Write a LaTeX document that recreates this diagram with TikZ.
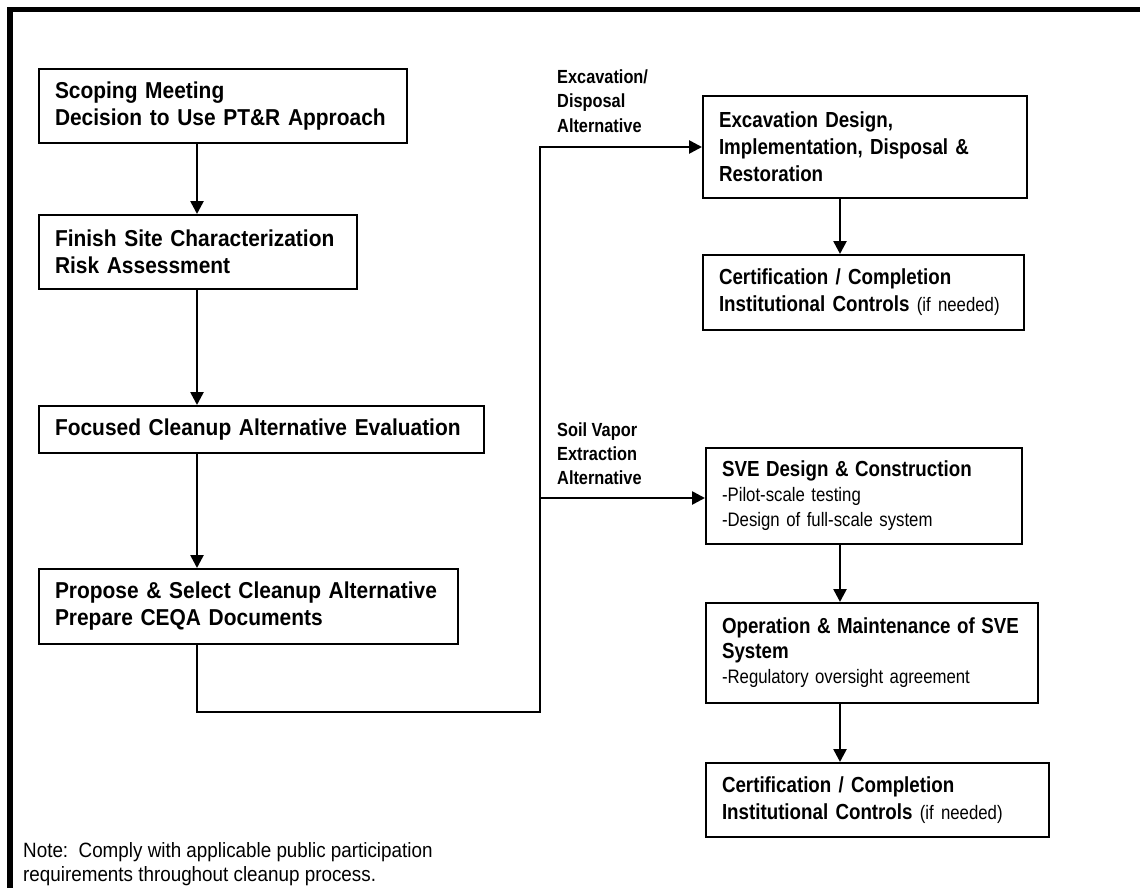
\documentclass[tikz,border=0pt]{standalone}
\usepackage{fontspec}
\setmainfont{Liberation Sans}
\newfontfamily\leftface[FakeStretch=0.91]{Liberation Sans}
\newfontfamily\rightface[FakeStretch=0.86]{Liberation Sans}
\usetikzlibrary{arrows.meta,positioning}

\newcommand{\stagefont}{\leftface\fontsize{23}{27}\selectfont\bfseries}
\newcommand{\notefont}{\leftface\fontsize{20.7}{24}\selectfont\mdseries}
\newcommand{\sidefont}{\rightface\fontsize{21.8}{27}\selectfont\bfseries}
\newcommand{\sidedetail}{\rightface\fontsize{19.5}{25}\selectfont\mdseries}
\newcommand{\branchfont}{\rightface\fontsize{19}{24}\selectfont\bfseries}

\begin{document}
\begin{tikzpicture}[x=1pt,y=-1pt,
		stage/.style={draw, line width=2pt, anchor=north west, align=left, inner xsep=16pt, inner ysep=0pt, font=\stagefont},
		sidestage/.style={stage, font=\sidefont},
		flow/.style={line width=2.6pt, -{Triangle[length=13pt,width=13pt]}},
		branch/.style={anchor=base west, align=left, inner sep=0pt, font=\branchfont}]
		\useasboundingbox (0,0) rectangle (1140,888);
		\draw[line width=5.5pt] (10,900) -- (10,9.5) -- (1150,9.5);

		\node[stage, text width=336pt, minimum height=74pt] (scope) at (38,68) {Scoping Meeting\\Decision to Use PT\&R Approach};
		\node[stage, text width=286pt, minimum height=74pt] (charact) at (38,214) {Finish Site Characterization\\Risk Assessment};
		\node[stage, text width=413pt, minimum height=47pt] (focus) at (38,405) {Focused Cleanup Alternative Evaluation};
		\node[stage, text width=387pt, minimum height=75pt] (select) at (38,568) {Propose \& Select Cleanup Alternative\\Prepare CEQA Documents};

		\node[sidestage, text width=292pt, minimum height=102pt] (excav) at (702,95) {Excavation Design,\\Implementation, Disposal \&\\Restoration};
		\node[sidestage, text width=289pt, minimum height=75pt] (certA) at (702,254) {Certification / Completion\\Institutional Controls {\sidedetail (if needed)}};

		\node[sidestage, text width=284pt, minimum height=96pt, font=\sidedetail] (sve) at (705,447) {{\sidefont SVE Design \& Construction}\\-Pilot-scale testing\\-Design of full-scale system};
		\node[sidestage, text width=300pt, minimum height=100pt, font=\sidedetail] (opm) at (705,602) {{\sidefont Operation \& Maintenance of SVE}\\{\sidefont System}\\-Regulatory oversight agreement};
		\node[sidestage, text width=311pt, minimum height=74pt] (certB) at (705,762) {Certification / Completion\\Institutional Controls {\sidedetail (if needed)}};

		\node[branch] (exlabel) at (557,132) {Excavation/\\Disposal\\Alternative};
		\node[branch] (svelabel) at (557,484) {Soil Vapor\\Extraction\\Alternative};
		\node[anchor=base west, align=left, inner sep=0pt, font=\notefont] (note) at (23,881) {Note:\ \ Comply with applicable public participation\\requirements throughout cleanup process.};

		\coordinate (colL) at (197,0);
		\coordinate (colR) at (840,0);
		\coordinate (turn) at (540,712);
		\coordinate (fork) at (540,498);

		\draw[flow] (scope.south -| colL) -- (charact.north -| colL);
		\draw[flow] (charact.south -| colL) -- (focus.north -| colL);
		\draw[flow] (focus.south -| colL) -- (select.north -| colL);
		\draw[flow] (select.south -| colL) |- (turn) |- (excav.west);
		\draw[flow] (fork) -- (fork -| sve.west);
		\draw[flow] (excav.south -| colR) -- (certA.north -| colR);
		\draw[flow] (sve.south -| colR) -- (opm.north -| colR);
		\draw[flow] (opm.south -| colR) -- (certB.north -| colR);
\end{tikzpicture}
\end{document}
